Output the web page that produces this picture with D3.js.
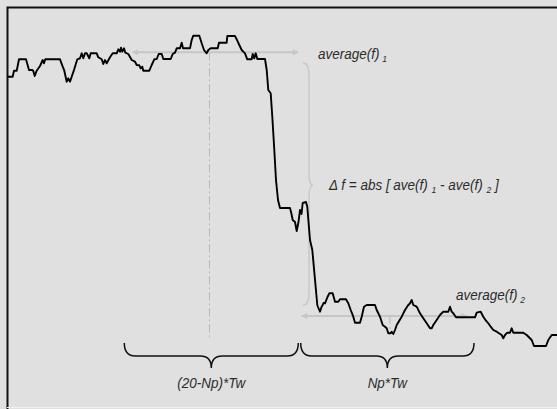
<!DOCTYPE html>
<html>
<head>
<meta charset="utf-8">
<script src="https://cdn.jsdelivr.net/npm/d3@7"></script>
<style>
  body { margin: 0; background: #e0e0e0; }
  svg { display: block; }
  text { font-family: "Liberation Sans", Arial, sans-serif; font-style: italic; fill: #2b2b2b; }
</style>
</head>
<body>
<div id="chart"></div>
<script>
// frequency trace (time units, frequency units)
const traceTime = [0.3, 5.7, 7, 9.7, 12, 19, 22, 25.3, 26.3, 27.7, 29.7, 33, 35.7, 37, 38.3, 53, 55.7, 57.3, 59.7, 61.3,
  63, 64.7, 67, 70.3, 73, 74.7, 76.3, 78, 79.7, 82.3, 83.7, 89.7, 91.3, 94.7, 96.3, 98, 99.7, 103, 105.7, 109.7,
  111.3, 113, 114, 115.3, 117, 118.3, 121.3, 124.7, 128, 129.7, 132.3, 133.7, 135.3, 136.3, 142.3, 144.7, 147.3, 149.7, 151.7, 154.7,
  156.3, 163.7, 165.7, 168, 169.7, 173, 174.7, 176, 183, 184.7, 186.3, 192.3, 194.7, 197, 199.7, 201.3, 203.7, 210.7, 212, 219.7,
  220.3, 228, 230.3, 232.3, 234.7, 238, 240.3, 244.7, 245.7, 247.3, 248.7, 250.3, 258, 259.7, 261.3, 263.7, 265.3, 267.3, 269, 271,
  273, 283, 284.5, 285.7, 288, 289.7, 291.5, 293, 294.5, 295.7, 299, 300.3, 303, 305.3, 310.3, 311, 313, 314.5, 315.7, 316.5,
  318, 320.5, 322.3, 325.7, 328, 331.3, 333, 339, 341.3, 343.7, 346.3, 348, 353, 354.7, 357, 359.7, 368, 369.7, 373, 375.7,
  378, 379.7, 381.3, 383.7, 384.7, 386.3, 388, 389.7, 394.7, 398, 401.3, 403, 404.7, 406.3, 409.7, 413, 416.3, 419.7, 423, 424.7,
  426.3, 429.7, 433, 436.3, 441.3, 443, 444.7, 446.3, 449, 468, 469.7, 473.7, 476.3, 479, 481.3, 483.7, 486.3, 489.7, 494.7, 496.3,
  498, 500.3, 503, 504.7, 506.3, 516.3, 519.7, 524.7, 527, 539, 541.3, 544.7, 550];
const traceFreq = [330.3, 330.3, 336.3, 336.3, 347.7, 347.7, 337, 337, 336, 331, 336.3, 341, 347, 343.7, 347.7, 347.7, 340.3, 336.3, 325.3, 328.7,
  325.3, 330.3, 337, 347.7, 348.7, 353.7, 348.7, 353.7, 353.7, 348.7, 353.7, 353.7, 349.7, 347.7, 343, 347, 343.7, 349.7, 353.7, 353.7,
  357.7, 355.3, 359.3, 355.3, 358.7, 354.3, 353, 347, 345.3, 342, 341.7, 338.7, 340.3, 336.3, 336.3, 342, 347.7, 348, 353, 353,
  348, 348, 353, 354.3, 358.7, 358.7, 364.3, 358.7, 358.7, 367, 371.3, 371.3, 363.7, 357, 353.7, 357, 358.7, 358.7, 364.3, 364.3,
  371, 371, 366.3, 362, 357, 353.7, 347.7, 347.7, 353, 348.7, 353.7, 348, 348, 337, 317, 313.7, 290.3, 257, 227, 207,
  199, 199, 193, 187, 185, 176, 185, 197, 193, 204, 205, 200, 167, 157, 102, 100, 95.3, 100, 102, 104,
  103.7, 110, 113.7, 113.7, 105.3, 105.3, 107.7, 107.7, 103.7, 97, 90.3, 84.3, 84.3, 90.3, 100.3, 102, 102, 97, 90.3, 82,
  80.3, 78.7, 73.7, 73.7, 75.3, 73, 77, 82, 90.3, 97, 102, 103.7, 107, 102, 100.3, 93.7, 88.7, 83.7, 78.7, 78.7,
  82, 87, 92, 95.3, 95.3, 100.3, 95.3, 93.7, 89.7, 89.7, 94.3, 95.3, 90.3, 86.3, 83.7, 80.3, 77, 75.3, 72, 68.7,
  72, 74.3, 74.3, 78.7, 74.3, 74.3, 72, 67, 61, 61, 67, 72, 72];

// averaging windows and their mean levels
const windowSpans = [[117.3, 291.3], [293.7, 467]];
const windowLabels = ["(20-Np)*Tw", "Np*Tw"];
const averageLevels = [354.7, 91];
const averageSpans = [[125.7, 291], [294.7, 459.7]];
const centerTimes = [202.5, 383];
const centerBottoms = [69, 73];

const W = 557, H = 409;
const x = d3.scaleLinear().domain([0, 550]).range([7, 557]);
const y = d3.scaleLinear().domain([0, 400]).range([407, 7]);

const svg = d3.select("#chart").append("svg")
    .attr("width", W)
    .attr("height", H);

svg.append("rect").attr("width", W).attr("height", H).attr("fill", "#e0e0e0");

// frame: dark top/left, light bottom
svg.append("path")
    .attr("d", "M7.5,409 L7.5,7.5 L557,7.5")
    .attr("fill", "none").attr("stroke", "#111").attr("stroke-width", 2);
svg.append("line")
    .attr("x1", 7).attr("x2", W).attr("y1", 407.5).attr("y2", 407.5)
    .attr("stroke", "#f0f0f0").attr("stroke-width", 1);

const gray = "#c6c6c6";

svg.append("defs").append("marker")
    .attr("id", "head")
    .attr("viewBox", "0 0 10 10")
    .attr("refX", 9).attr("refY", 5)
    .attr("markerUnits", "userSpaceOnUse")
    .attr("markerWidth", 7).attr("markerHeight", 6)
    .attr("orient", "auto-start-reverse")
    .append("path").attr("d", "M0,0 L10,5 L0,10 z").attr("fill", gray);

// centre markers (dash-dot)
centerTimes.forEach((t, i) => {
    svg.append("line")
        .attr("x1", x(t)).attr("x2", x(t))
        .attr("y1", y(averageLevels[i])).attr("y2", y(centerBottoms[i]))
        .attr("stroke", "#b4b4b4").attr("stroke-width", 1)
        .attr("stroke-dasharray", "8,3,2,3");
});

// average arrows
averageSpans.forEach((s, i) => {
    svg.append("line")
        .attr("x1", x(s[0])).attr("x2", x(s[1]))
        .attr("y1", y(averageLevels[i])).attr("y2", y(averageLevels[i]))
        .attr("stroke", gray).attr("stroke-width", 2)
        .attr("marker-start", "url(#head)")
        .attr("marker-end", "url(#head)");
});

// vertical gray brace between the two averages
{
    const bx = x(302), tip = x(306), end = x(296);
    const top = y(344), bot = y(102), mid = y(222), r = 12;
    const p = d3.path();
    p.moveTo(end, top);
    p.quadraticCurveTo(bx, top, bx, top + r);
    p.lineTo(bx, mid - r);
    p.quadraticCurveTo(bx, mid, tip, mid);
    p.quadraticCurveTo(bx, mid, bx, mid + r);
    p.lineTo(bx, bot - r);
    p.quadraticCurveTo(bx, bot, end, bot);
    svg.append("path").attr("d", p.toString())
        .attr("fill", "none").attr("stroke", "#c8c8c8").attr("stroke-width", 1.5);
}

// trace
const points = traceTime.map((t, i) => [t, traceFreq[i]]);
svg.append("path")
    .datum(points)
    .attr("d", d3.line().x(d => x(d[0])).y(d => y(d[1])))
    .attr("fill", "none")
    .attr("stroke", "#000")
    .attr("stroke-width", 1.9)
    .attr("stroke-linejoin", "round");

// text is slightly condensed in the original
const squeeze = 0.9;

// bottom braces for the two windows
windowSpans.forEach((s, i) => {
    const x1 = x(s[0]), x2 = x(s[1]), xm = (x1 + x2) / 2;
    const y0 = y(64), y1 = y(51), y2 = y(39), r = 11;
    const p = d3.path();
    p.moveTo(x1, y0);
    p.quadraticCurveTo(x1, y1, x1 + r, y1);
    p.lineTo(xm - r, y1);
    p.quadraticCurveTo(xm, y1, xm, y2);
    p.quadraticCurveTo(xm, y1, xm + r, y1);
    p.lineTo(x2 - r, y1);
    p.quadraticCurveTo(x2, y1, x2, y0);
    svg.append("path").attr("d", p.toString())
        .attr("fill", "none").attr("stroke", "#111").attr("stroke-width", 1.5);

    svg.append("text")
        .attr("transform", `translate(${xm},${y(19)}) scale(${squeeze},1)`)
        .attr("text-anchor", "middle")
        .attr("font-size", 15)
        .text(windowLabels[i]);
});

// labels with subscripts
function subLabel(px, py, parts) {
    const t = svg.append("text")
        .attr("transform", `translate(${px},${py}) scale(${squeeze},1)`)
        .attr("font-size", 15);
    parts.forEach(p => {
        if (p.sub) {
            t.append("tspan").attr("font-size", 9.5).attr("dy", 3).text(p.s);
        } else {
            t.append("tspan").attr("dy", p.after ? -3 : 0).text(p.s);
        }
    });
}
subLabel(318, 59, [{s: "average(f)"}, {s: "\u2009"}, {s: "1", sub: true}]);
subLabel(456, 300, [{s: "average(f)"}, {s: "\u2009"}, {s: "2", sub: true}]);
subLabel(329, 190, [
    {s: "\u0394 f = abs [ ave(f) "}, {s: "1", sub: true},
    {s: "  - ave(f) ", after: true}, {s: "2", sub: true},
    {s: "  ]", after: true}
]);
</script>
</body>
</html>
